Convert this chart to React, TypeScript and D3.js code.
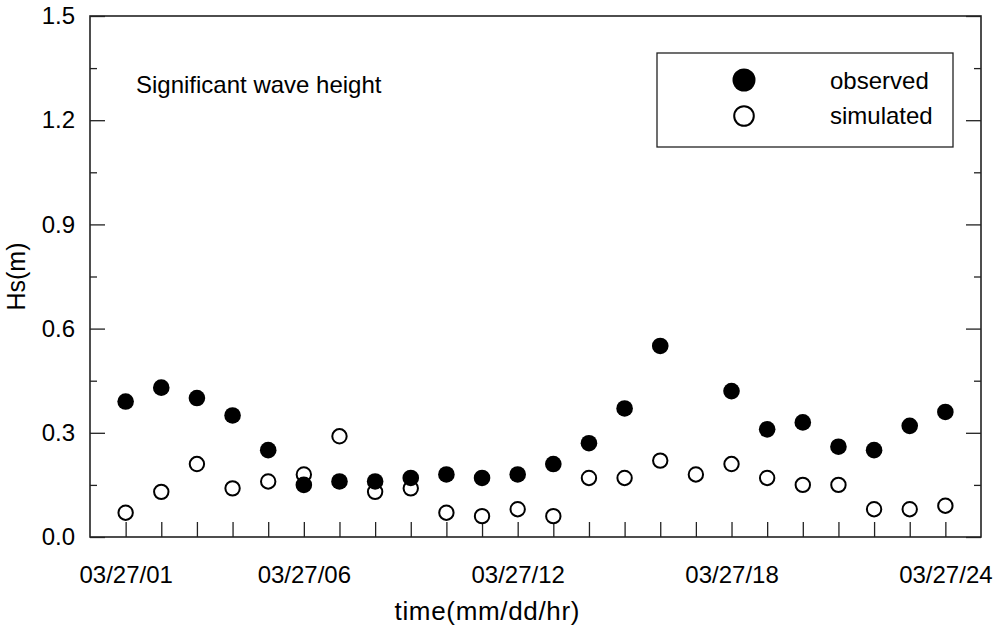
import React, { useEffect, useRef } from "react";
import * as d3 from "d3";

// hours of 03/27
const hours = [1, 2, 3, 4, 5, 6, 7, 8, 9, 10, 11, 12, 13, 14, 15, 16, 17, 18, 19, 20, 21, 22, 23, 24];
// observed Hs (m), hour 17 has no observation
const observed = [0.39, 0.43, 0.40, 0.35, 0.25, 0.15, 0.16, 0.16, 0.17, 0.18, 0.17, 0.18, 0.21, 0.27, 0.37, 0.55, null, 0.42, 0.31, 0.33, 0.26, 0.25, 0.32, 0.36];
// simulated Hs (m)
const simulated = [0.07, 0.13, 0.21, 0.14, 0.16, 0.18, 0.29, 0.13, 0.14, 0.07, 0.06, 0.08, 0.06, 0.17, 0.17, 0.22, 0.18, 0.21, 0.17, 0.15, 0.15, 0.08, 0.08, 0.09];
const labelHours = [1, 6, 12, 18, 24];
const labelTexts = ["03/27/01", "03/27/06", "03/27/12", "03/27/18", "03/27/24"];
const yTicks = [0, 0.15, 0.3, 0.45, 0.6, 0.75, 0.9, 1.05, 1.2, 1.35, 1.5];
const yMajor = [0, 0.3, 0.6, 0.9, 1.2, 1.5];

const W = 1000;
const H = 629;
const FONT = "'Liberation Sans', Arial, sans-serif";

export default function App() {
  const ref = useRef<SVGSVGElement>(null);

  useEffect(() => {
    const svg = d3.select(ref.current);
    svg.selectAll("*").remove();

    const margin = { left: 90, right: 19, top: 16, bottom: 92 };
    const x = d3.scaleLinear().domain([0, 25]).range([margin.left, W - margin.right]);
    const y = d3.scaleLinear().domain([0, 1.5]).range([H - margin.bottom, margin.top]);

    const isMajor = (v: number) => yMajor.some(m => Math.abs(m - v) < 1e-6);

    // frame
    svg.append("rect")
      .attr("x", x(0)).attr("y", y(1.5))
      .attr("width", x(25) - x(0)).attr("height", y(0) - y(1.5))
      .attr("fill", "none").attr("stroke", "#222").attr("stroke-width", 1.6);

    // y axis left
    const yAxis = d3.axisLeft(y)
      .tickValues(yTicks)
      .tickSize(-15)
      .tickPadding(15)
      .tickFormat(d => (isMajor(+d) ? d3.format(".1f")(+d) : ""));
    const gl = svg.append("g").attr("transform", `translate(${x(0)},0)`).call(yAxis);
    gl.select(".domain").remove();
    gl.selectAll(".tick line")
      .attr("x2", (d: any) => (isMajor(d) ? 15 : 7))
      .attr("stroke", "#222").attr("stroke-width", 1.3);
    gl.selectAll(".tick text")
      .attr("font-family", FONT).attr("font-size", 24).attr("fill", "#000");

    // y axis right (ticks only)
    const yAxisR = d3.axisRight(y).tickValues(yTicks).tickSize(-15).tickFormat(() => "");
    const gr = svg.append("g").attr("transform", `translate(${x(25)},0)`).call(yAxisR);
    gr.select(".domain").remove();
    gr.selectAll(".tick line")
      .attr("x2", (d: any) => (isMajor(d) ? -15 : -7))
      .attr("stroke", "#222").attr("stroke-width", 1.3);

    // x axis
    const xAxis = d3.axisBottom(x)
      .tickValues(hours)
      .tickSize(-15)
      .tickPadding(29)
      .tickFormat(d => {
        const i = labelHours.indexOf(+d);
        return i >= 0 ? labelTexts[i] : "";
      });
    const gx = svg.append("g").attr("transform", `translate(0,${y(0)})`).call(xAxis);
    gx.select(".domain").remove();
    gx.selectAll(".tick line").attr("stroke", "#222").attr("stroke-width", 1.3);
    gx.selectAll(".tick text")
      .attr("font-family", FONT).attr("font-size", 24).attr("fill", "#000");

    // axis titles
    svg.append("text")
      .attr("x", 487).attr("y", 620)
      .attr("text-anchor", "middle")
      .attr("font-family", FONT).attr("font-size", 26)
      .attr("textLength", 185).attr("lengthAdjust", "spacing")
      .text("time(mm/dd/hr)");

    svg.append("text")
      .attr("transform", "rotate(-90)")
      .attr("x", -(y(0) + y(1.5)) / 2).attr("y", 25)
      .attr("text-anchor", "middle")
      .attr("font-family", FONT).attr("font-size", 25)
      .text("Hs(m)");

    svg.append("text")
      .attr("x", 136).attr("y", 93)
      .attr("font-family", FONT).attr("font-size", 24)
      .text("Significant wave height");

    // points: simulated under observed
    svg.append("g").selectAll("circle")
      .data(hours.map((h, i) => ({ h, v: simulated[i] })))
      .enter().append("circle")
      .attr("cx", d => x(d.h)).attr("cy", d => y(d.v))
      .attr("r", 7.2)
      .attr("fill", "#fff").attr("stroke", "#000").attr("stroke-width", 2);

    svg.append("g").selectAll("circle")
      .data(hours.map((h, i) => ({ h, v: observed[i] })).filter(d => d.v !== null))
      .enter().append("circle")
      .attr("cx", d => x(d.h)).attr("cy", d => y(d.v as number))
      .attr("r", 8.3)
      .attr("fill", "#000");

    // legend
    const lg = svg.append("g");
    lg.append("rect")
      .attr("x", 657).attr("y", 53).attr("width", 296).attr("height", 94)
      .attr("fill", "#fff").attr("stroke", "#222").attr("stroke-width", 1.3);
    lg.append("circle").attr("cx", 744).attr("cy", 80).attr("r", 11.5).attr("fill", "#000");
    lg.append("circle").attr("cx", 744).attr("cy", 116).attr("r", 9.8)
      .attr("fill", "#fff").attr("stroke", "#000").attr("stroke-width", 2);
    lg.append("text").attr("x", 830).attr("y", 89)
      .attr("font-family", FONT).attr("font-size", 24).text("observed");
    lg.append("text").attr("x", 830).attr("y", 124)
      .attr("font-family", FONT).attr("font-size", 24).text("simulated");
  }, []);

  return (
    <svg
      ref={ref}
      width={W}
      height={H}
      style={{ position: "absolute", left: 0, top: 0, background: "#fff" }}
    />
  );
}
